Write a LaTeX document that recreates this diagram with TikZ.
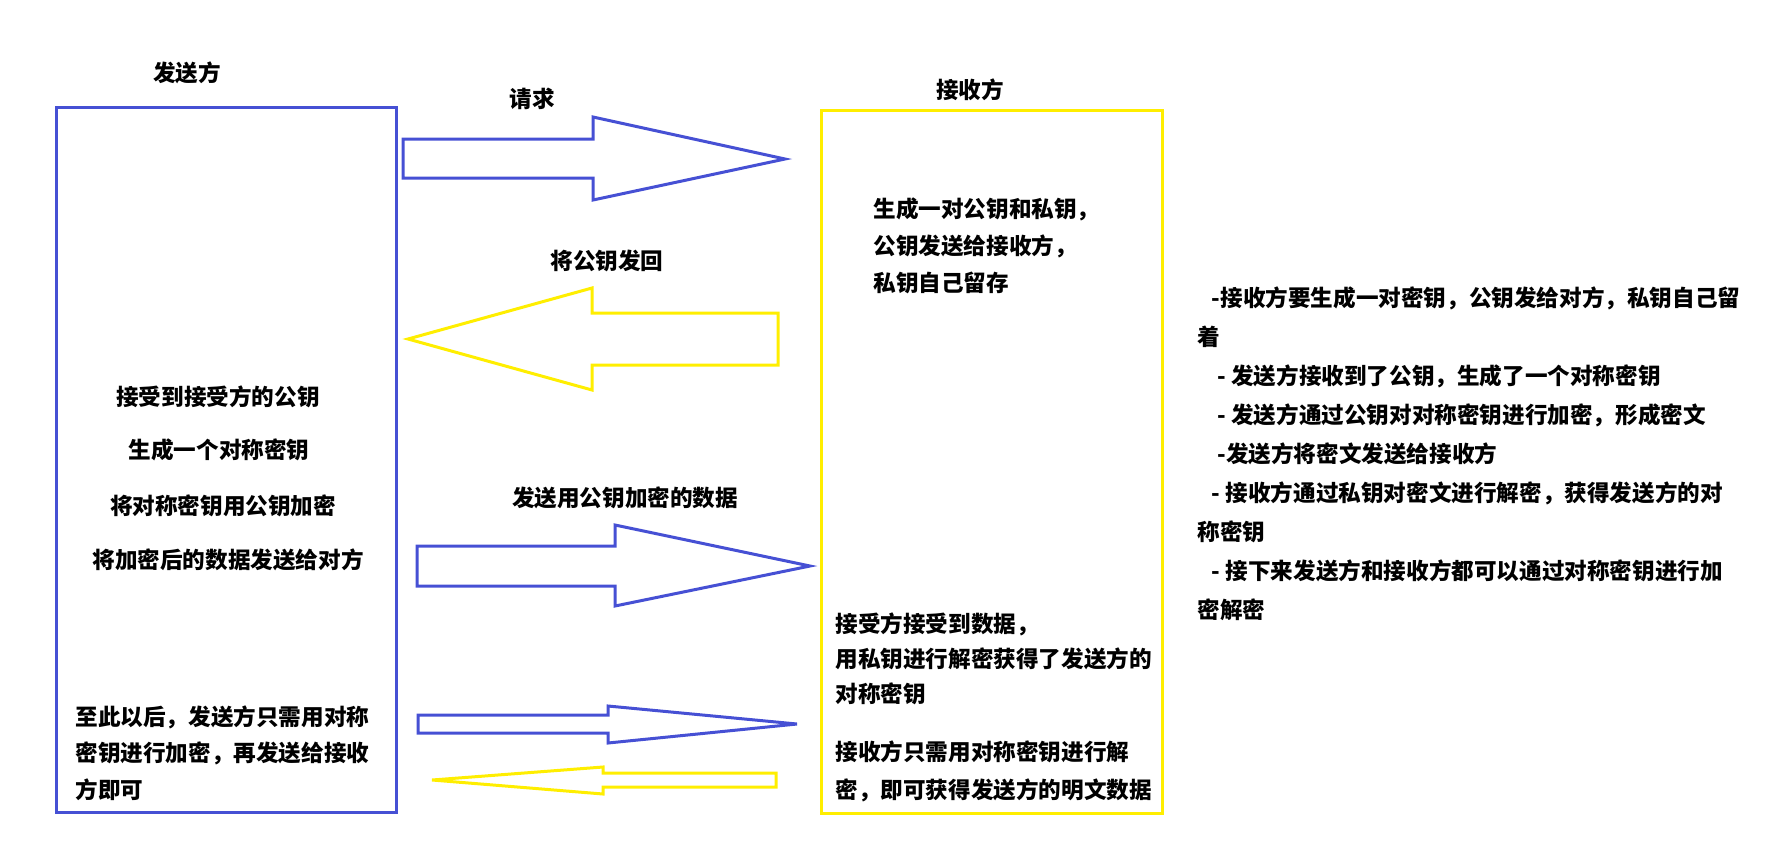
\documentclass[tikz,border=0pt]{standalone}
\usepackage{fontspec}
\setmainfont{Noto Sans CJK SC}
\usetikzlibrary{positioning}

\definecolor{sendblue}{RGB}{70,80,212}
\definecolor{recvyellow}{RGB}{255,238,0}

\tikzset{
  party/.style={draw, line width=1.5pt, inner sep=0pt},
  txt/.style={inner sep=0pt, font=\fontsize{11.3}{18.4}\selectfont\bfseries},
  para/.style={txt, align=left, anchor=north west},
  blockarrow/.style={draw, line width=1.5pt, line join=miter},
}

\begin{document}
\begin{tikzpicture}[x=0.5pt, y=-0.5pt]
  \useasboundingbox (0,0) rectangle (1786,852);

  % Sender and receiver
  \node[party, sendblue, minimum width=170pt, minimum height=352.5pt] (sender) at (226,459.5) {};
  \node[party, recvyellow, minimum width=170.5pt, minimum height=351.5pt] (receiver) at (991.5,461.5) {};
  \node[txt] (sendtitle) at (187,73) {发送方};
  \node[txt] (recvtitle) at (970,90) {接收方};

  % Request
  \draw[blockarrow, sendblue] (403,139) -- (593,139) -- (593,117) -- (785,159)
    -- (593,200) -- (593,178) -- (403,178) -- cycle;
  \node[txt] (reqlabel) at (532,99) {请求};

  % Public key back
  \draw[blockarrow, recvyellow] (408,339) -- (592,288) -- (592,313) -- (778,313)
    -- (778,365) -- (592,365) -- (592,390) -- cycle;
  \node[txt] (keylabel) at (607,261) {将公钥发回};
  \node[para, font=\fontsize{11.3}{18.5}\selectfont\bfseries] (keygen) at (873,197)
    {生成一对公钥和私钥，\\公钥发送给接收方，\\私钥自己留存};

  % Encrypted data
  \node[txt] (got) at (218,397) {接受到接受方的公钥};
  \node[txt] (symkey) at (219,450) {生成一个对称密钥};
  \node[txt] (encrypt) at (223,506) {将对称密钥用公钥加密};
  \node[txt] (sendoff) at (228,560) {将加密后的数据发送给对方};
  \draw[blockarrow, sendblue] (417,546) -- (615,546) -- (615,525) -- (810,566)
    -- (615,606) -- (615,586) -- (417,586) -- cycle;
  \node[txt] (datalabel) at (625,498) {发送用公钥加密的数据};
  \node[para, font=\fontsize{11.3}{17.5}\selectfont\bfseries] (decrypt) at (835,612)
    {接受方接受到数据，\\用私钥进行解密获得了发送方的\\对称密钥};

  % Symmetric traffic
  \draw[blockarrow, sendblue] (418,715) -- (608,715) -- (608,706) -- (797,724)
    -- (608,743) -- (608,733) -- (418,733) -- cycle;
  \draw[blockarrow, recvyellow] (432,780) -- (603,767) -- (603,773) -- (776,773)
    -- (776,787) -- (603,787) -- (603,794) -- cycle;
  \node[para, font=\fontsize{11.3}{18.35}\selectfont\bfseries] (sendsym) at (75,705)
    {至此以后，发送方只需用对称\\密钥进行加密，再发送给接收\\方即可};
  \node[para, font=\fontsize{11.3}{19}\selectfont\bfseries] (recvsym) at (835,740.5)
    {接收方只需用对称密钥进行解\\密，即可获得发送方的明文数据};

  % Summary
  \node[para, font=\fontsize{11.3}{19.5}\selectfont\bfseries] (summary) at (1197,286.7)
    {\hspace*{7.25pt}-接收方要生成一对密钥，公钥发给对方，私钥自己留\\
     着\\
     \hspace*{10pt}- 发送方接收到了公钥，生成了一个对称密钥\\
     \hspace*{10pt}- 发送方通过公钥对对称密钥进行加密，形成密文\\
     \hspace*{10pt}-发送方将密文发送给接收方\\
     \hspace*{7.25pt}- 接收方通过私钥对密文进行解密，获得发送方的对\\
     称密钥\\
     \hspace*{7.25pt}- 接下来发送方和接收方都可以通过对称密钥进行加\\
     密解密};
\end{tikzpicture}
\end{document}
